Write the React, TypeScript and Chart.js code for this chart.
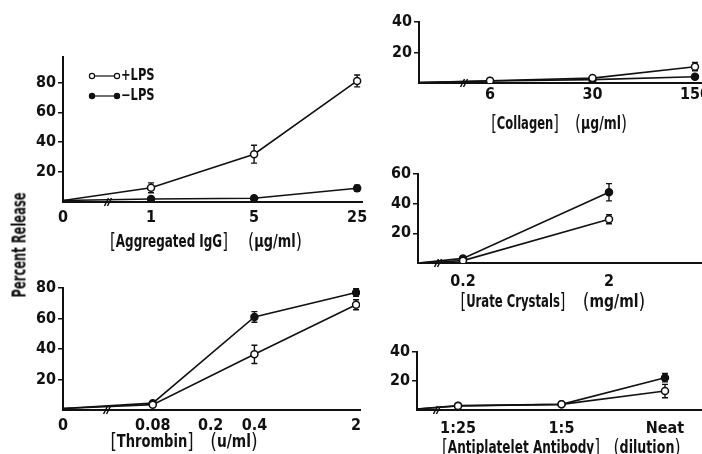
import React, { useEffect, useLayoutEffect, useRef } from 'react';
import { Chart, registerables } from 'chart.js';

Chart.register(...registerables);

// ---------- data ----------
// Aggregated IgG (µg/ml)
const iggDoses = [0, 1, 5, 25];
const iggTickDoses = [0, 1, 5, 25];
const iggTickLabels = ['0', '1', '5', '25'];
const iggPlus = [1, 9.5, 32, 81];
const iggPlusErr = [0, 3.3, 6, 4];
const iggMinus = [1, 2, 2.5, 9.2];
const iggMinusErr = [0, 1, 1, 2];

// Thrombin (u/ml)
const thrDoses = [0, 0.08, 0.4, 2];
const thrTickDoses = [0, 0.08, 0.2, 0.4, 2];
const thrTickLabels = ['0', '0.08', '0.2', '0.4', '2'];
const thrPlus = [1, 3.5, 36.5, 69];
const thrPlusErr = [0, 1, 6, 3.3];
const thrMinus = [1, 4.5, 61, 77];
const thrMinusErr = [0, 1, 3.5, 2.5];

// Collagen (µg/ml)
const colDoses = [0, 6, 30, 150];
const colTickDoses = [6, 30, 150];
const colTickLabels = ['6', '30', '150'];
const colPlus = [0.3, 1.5, 3.2, 10.7];
const colPlusErr = [0, 1, 1, 2.7];
const colMinus = [0.3, 1.3, 2.2, 4.1];
const colMinusErr = [0, 1, 1, 1.5];

// Urate crystals (mg/ml)
const urDoses = [0, 0.2, 2];
const urTickDoses = [0.2, 2];
const urTickLabels = ['0.2', '2'];
const urPlus = [0, 1.6, 29.5];
const urPlusErr = [0, 1, 3];
const urMinus = [0, 3.1, 47.7];
const urMinusErr = [0, 1, 5.8];

// Antiplatelet antibody (dilution)
const abDoses = [0, 0.04, 0.2, 1];
const abTickDoses = [0.04, 0.2, 1];
const abTickLabels = ['1:25', '1:5', 'Neat'];
const abPlus = [0.7, 2.8, 3.9, 13.1];
const abPlusErr = [0, 1, 1, 4.6];
const abMinus = [0.7, 3, 3.9, 22.3];
const abMinusErr = [0, 1, 1, 2.9];

const seriesLabels = ['+LPS', '\u2212LPS'];
const yAxisTitle = 'Percent Release';

// ---------- styling / layout ----------
const FONT = "'DejaVu Sans Condensed', 'Liberation Sans Narrow', 'Arial Narrow', sans-serif";
const INK = '#111';
const YW = 46;
const PADT = 12;
const PADR = 10;
const XH = 36;

type Area = { left: number; top: number; right: number; bottom: number };
type PanelDef = {
  doses: number[];
  tickDoses: number[];
  tickLabels: string[];
  plus: number[];
  plusErr: number[];
  minus: number[];
  minusErr: number[];
  xMin: number; // log10 position of the axis origin (where dose 0 sits)
  xMax: number;
  breakAt: number;
  yMax: number;
  yTicks: number[];
  area: Area;
  tickPad: number;
  legend?: boolean;
};

const decorPlugin = {
  id: 'decor',
  beforeDatasetsDraw(chart: any) {
    const ctx = chart.ctx;
    const xs = chart.scales.x;
    const ys = chart.scales.y;
    ctx.save();
    ctx.strokeStyle = INK;
    ctx.lineWidth = 1.4;
    chart.data.datasets.forEach((ds: any) => {
      ds.data.forEach((p: any, i: number) => {
        const e = ds.errors ? ds.errors[i] : 0;
        if (!e) return;
        const x = xs.getPixelForValue(p.x);
        const y1 = ys.getPixelForValue(p.y + e);
        const y2 = ys.getPixelForValue(p.y - e);
        ctx.beginPath();
        ctx.moveTo(x, y1);
        ctx.lineTo(x, y2);
        ctx.moveTo(x - 3, y1);
        ctx.lineTo(x + 3, y1);
        ctx.moveTo(x - 3, y2);
        ctx.lineTo(x + 3, y2);
        ctx.stroke();
      });
    });
    ctx.restore();
  },
  afterDraw(chart: any, _args: any, opts: any) {
    const ctx = chart.ctx;
    const xs = chart.scales.x;
    const area = chart.chartArea;
    ctx.save();
    ctx.strokeStyle = INK;
    ctx.lineWidth = 1.5;
    // axis break "//"
    if (opts.breakAt !== undefined) {
      const bx = xs.getPixelForValue(opts.breakAt);
      const by = area.bottom;
      ctx.beginPath();
      for (const dx of [-1.5, 1.5]) {
        ctx.moveTo(bx + dx - 2, by + 4);
        ctx.lineTo(bx + dx + 2, by - 4);
      }
      ctx.stroke();
    }
    // legend
    if (opts.legend) {
      const x0 = area.left + 29;
      const x1 = area.left + 54;
      const rows = [area.top + 19, area.top + 39];
      rows.forEach((y, r) => {
        ctx.lineWidth = 1.2;
        ctx.beginPath();
        ctx.moveTo(x0, y);
        ctx.lineTo(x1, y);
        ctx.stroke();
        for (const cx of [x0, x1]) {
          ctx.beginPath();
          ctx.arc(cx, y, 2.6, 0, Math.PI * 2);
          ctx.fillStyle = r === 0 ? '#fff' : INK;
          ctx.fill();
          ctx.stroke();
        }
        ctx.save();
        ctx.translate(x1 + 4, y);
        ctx.scale(0.85, 1);
        ctx.fillStyle = INK;
        ctx.font = `bold 15px ${FONT}`;
        ctx.textBaseline = 'middle';
        ctx.textAlign = 'left';
        ctx.fillText(seriesLabels[r], 0, 0);
        ctx.restore();
      });
    }
    ctx.restore();
  },
};

function pos(d: number, xMin: number) {
  return d === 0 ? xMin : Math.log10(d);
}

function makeConfig(def: PanelDef): any {
  const font = { family: FONT, size: 16, weight: 'bold' as const };
  const mk = (vals: number[], errs: number[], filled: boolean, label: string) => ({
    label,
    data: def.doses.map((d, i) => ({ x: pos(d, def.xMin), y: vals[i] })),
    errors: errs,
    borderColor: INK,
    borderWidth: 1.6,
    pointRadius: def.doses.map((d) => (d === 0 ? 0 : 3.5)),
    pointBackgroundColor: filled ? INK : '#fff',
    pointBorderColor: INK,
    pointBorderWidth: 1.5,
    fill: false,
    tension: 0,
  });
  return {
    type: 'line',
    data: {
      datasets: [
        mk(def.plus, def.plusErr, false, seriesLabels[0]),
        mk(def.minus, def.minusErr, true, seriesLabels[1]),
      ],
    },
    options: {
      animation: false,
      responsive: false,
      events: [],
      layout: { padding: { top: PADT, right: PADR, left: 0, bottom: 0 } },
      plugins: {
        legend: { display: false },
        tooltip: { enabled: false },
        decor: { breakAt: def.breakAt, legend: !!def.legend },
      },
      scales: {
        x: {
          type: 'linear',
          min: def.xMin,
          max: def.xMax,
          afterBuildTicks: (s: any) => {
            s.ticks = def.tickDoses.map((d) => ({ value: pos(d, def.xMin) }));
          },
          afterFit: (s: any) => {
            s.height = XH;
            s.paddingLeft = 0;
            s.paddingRight = 0;
          },
          ticks: {
            callback: (_v: any, i: number) => def.tickLabels[i],
            autoSkip: false,
            maxRotation: 0,
            padding: def.tickPad,
            color: INK,
            font,
          },
          grid: { display: false, drawTicks: false },
          border: { display: true, color: INK, width: 2 },
        },
        y: {
          type: 'linear',
          min: 0,
          max: def.yMax,
          afterBuildTicks: (s: any) => {
            s.ticks = def.yTicks.map((v) => ({ value: v }));
          },
          afterFit: (s: any) => {
            s.width = YW;
            s.paddingTop = 0;
            s.paddingBottom = 0;
          },
          ticks: { padding: 2, color: INK, font, callback: (v: any) => String(v) },
          grid: { drawOnChartArea: false, drawTicks: true, tickLength: 5, color: INK, lineWidth: 1.5 },
          border: { display: true, color: INK, width: 2 },
        },
      },
    },
    plugins: [decorPlugin],
  };
}

const panels: PanelDef[] = [
  {
    doses: iggDoses, tickDoses: iggTickDoses, tickLabels: iggTickLabels,
    plus: iggPlus, plusErr: iggPlusErr, minus: iggMinus, minusErr: iggMinusErr,
    xMin: -0.597, xMax: 1.431, breakAt: -0.292, yMax: 97, yTicks: [20, 40, 60, 80],
    area: { left: 63, top: 57, right: 362, bottom: 202 }, tickPad: 6, legend: true,
  },
  {
    doses: thrDoses, tickDoses: thrTickDoses, tickLabels: thrTickLabels,
    plus: thrPlus, plusErr: thrPlusErr, minus: thrMinus, minusErr: thrMinusErr,
    xMin: -1.714, xMax: 0.328, breakAt: -1.411, yMax: 80, yTicks: [20, 40, 60, 80],
    area: { left: 63, top: 288, right: 360, bottom: 410 }, tickPad: 6,
  },
  {
    doses: colDoses, tickDoses: colTickDoses, tickLabels: colTickLabels,
    plus: colPlus, plusErr: colPlusErr, minus: colMinus, minusErr: colMinusErr,
    xMin: 0.294, xMax: 2.224, breakAt: 0.601, yMax: 40, yTicks: [20, 40],
    area: { left: 419, top: 22, right: 702, bottom: 83 }, tickPad: 2,
  },
  {
    doses: urDoses, tickDoses: urTickDoses, tickLabels: urTickLabels,
    plus: urPlus, plusErr: urPlusErr, minus: urMinus, minusErr: urMinusErr,
    xMin: -1.007, xMax: 0.938, breakAt: -0.87, yMax: 60, yTicks: [20, 40, 60],
    area: { left: 418, top: 174, right: 702, bottom: 263 }, tickPad: 9,
  },
  {
    doses: abDoses, tickDoses: abTickDoses, tickLabels: abTickLabels,
    plus: abPlus, plusErr: abPlusErr, minus: abMinus, minusErr: abMinusErr,
    xMin: -1.675, xMax: 0.25, breakAt: -1.54, yMax: 40, yTicks: [20, 40],
    area: { left: 417, top: 352, right: 702, bottom: 410 }, tickPad: 9,
  },
];

const axisTitles = [
  { term: 'Aggregated IgG', unit: '\u03bcg/ml', y: 241, termX: 110, termW: 118, unitX: 248, unitW: 54 },
  { term: 'Thrombin', unit: 'u/ml', y: 441, termX: 110, termW: 83, unitX: 210, unitW: 47 },
  { term: 'Collagen', unit: '\u03bcg/ml', y: 123, termX: 491, termW: 68, unitX: 575, unitW: 52 },
  { term: 'Urate Crystals', unit: 'mg/ml', y: 301, termX: 460, termW: 105, unitX: 583, unitW: 62 },
  { term: 'Antiplatelet Antibody', unit: 'dilution', y: 447, termX: 442, termW: 158, unitX: 613, unitW: 67 },
];

function Panel({ def }: { def: PanelDef }) {
  const ref = useRef<HTMLCanvasElement>(null);
  const { area } = def;
  const left = area.left - YW;
  const top = area.top - PADT;
  const width = YW + area.right - area.left + PADR;
  const height = PADT + area.bottom - area.top + XH;
  useEffect(() => {
    const chart = new Chart(ref.current as HTMLCanvasElement, makeConfig(def));
    return () => chart.destroy();
  }, []);
  return (
    <canvas
      ref={ref}
      width={width}
      height={height}
      style={{ position: 'absolute', left, top, width, height }}
    />
  );
}

// Text squeezed horizontally to a target width, centred on (cx, cy).
function FitText({ cx, cy, width, rotate = 0, children, size = 17 }: any) {
  const ref = useRef<HTMLDivElement>(null);
  useLayoutEffect(() => {
    const el = ref.current;
    if (!el) return;
    const s = width / el.offsetWidth;
    el.style.transform = `translate(-50%, -50%) rotate(${rotate}deg) scaleX(${s})`;
  }, []);
  return (
    <div
      ref={ref}
      style={{
        position: 'absolute', left: cx, top: cy, display: 'inline-flex', alignItems: 'center',
        gap: 0, whiteSpace: 'nowrap', font: `bold ${size}px ${FONT}`, color: INK, lineHeight: 1,
        transform: 'translate(-50%, -50%)',
      }}
    >
      {children}
    </div>
  );
}

const bracketStyle: React.CSSProperties = { fontWeight: 400, fontSize: 21, lineHeight: 1 };

export default function App() {
  return (
    <div style={{ position: 'absolute', left: 0, top: 0, width: 702, height: 454, overflow: 'hidden', background: '#fff' }}>
      {panels.map((p, i) => (
        <Panel key={i} def={p} />
      ))}
      {axisTitles.map((t, i) => (
        <React.Fragment key={i}>
          <FitText cx={t.termX + t.termW / 2} cy={t.y} width={t.termW}>
            <span style={bracketStyle}>[</span>
            <span>{t.term}</span>
            <span style={bracketStyle}>]</span>
          </FitText>
          <FitText cx={t.unitX + t.unitW / 2} cy={t.y} width={t.unitW}>
            <span style={bracketStyle}>(</span>
            <span>{t.unit}</span>
            <span style={bracketStyle}>)</span>
          </FitText>
        </React.Fragment>
      ))}
      <FitText cx={19} cy={245} width={105} rotate={-90} size={19}>
        <span>{yAxisTitle}</span>
      </FitText>
    </div>
  );
}
